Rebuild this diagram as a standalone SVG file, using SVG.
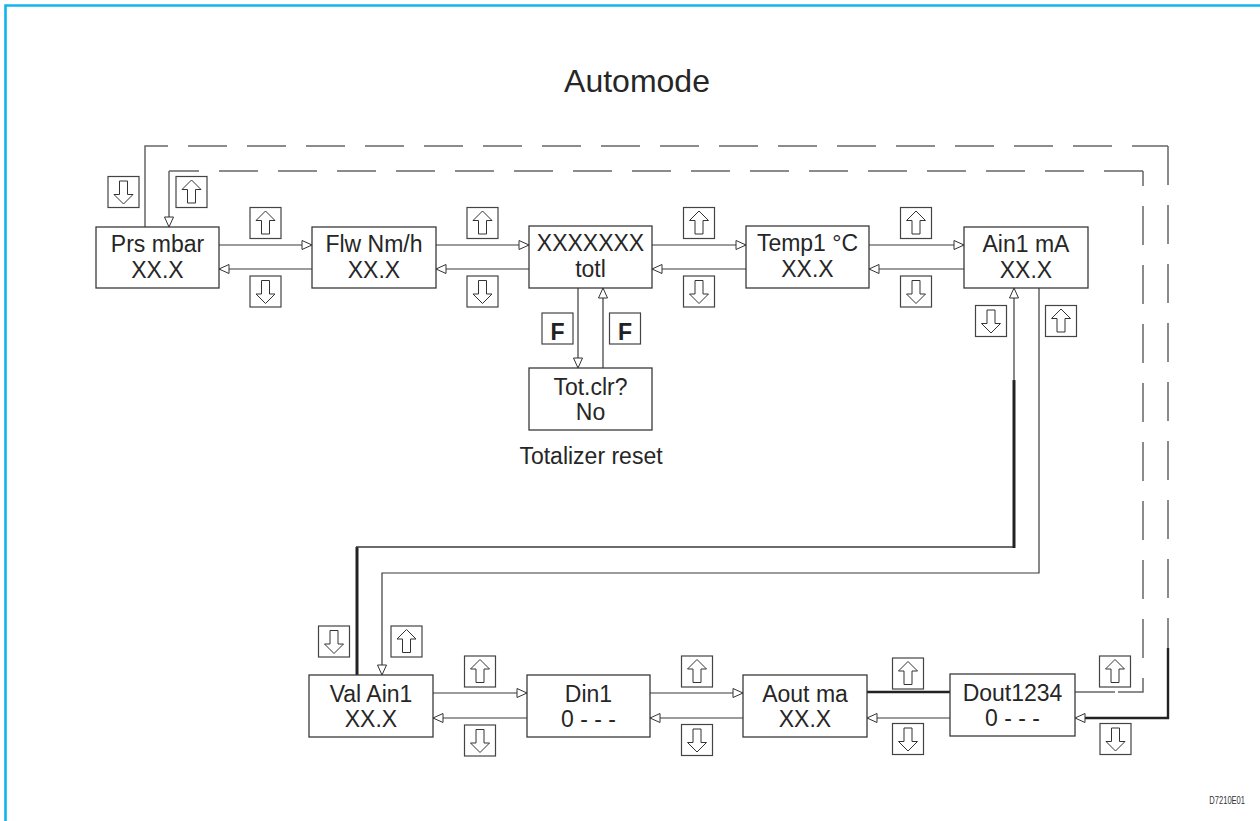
<svg xmlns="http://www.w3.org/2000/svg" width="1260" height="821" viewBox="0 0 1260 821">
<style>
.node{fill:#fff;stroke:#3a3a3a;stroke-width:1.3}
.lbl{font-family:"Liberation Sans",Arial,sans-serif;font-size:23px;fill:#262626;text-anchor:middle}
.ln{fill:none;stroke:#3a3a3a;stroke-width:1.2}
.thick{fill:none;stroke:#222;stroke-width:3}
.dash{fill:none;stroke:#666;stroke-width:1.5;stroke-dasharray:39 20}
.solidg{fill:none;stroke:#666;stroke-width:1.5}
.kbox{fill:#fff;stroke:#444;stroke-width:1.2}
.karr{fill:#fff;stroke:#333;stroke-width:1}
.fl{font-family:"Liberation Sans",Arial,sans-serif;font-size:23px;font-weight:bold;fill:#222;text-anchor:middle}
</style>
<defs>
<marker id="ah" markerUnits="userSpaceOnUse" markerWidth="12" markerHeight="11" refX="10" refY="4.5" orient="auto" viewBox="-1 -1 12 11">
<path d="M0,0 L10,4.5 L0,9 Z" fill="#fff" stroke="#333" stroke-width="1"/>
</marker>
<g id="kup"><rect class="kbox" x="0" y="0" width="31" height="31"/><path class="karr" d="M15.5,3.5 L25,13 L19.5,13 L19.5,26.5 L11.5,26.5 L11.5,13 L6,13 Z"/></g>
<g id="kdn"><rect class="kbox" x="0" y="0" width="31" height="31"/><path class="karr" d="M15.5,27.5 L25,18 L19.5,18 L19.5,4.5 L11.5,4.5 L11.5,18 L6,18 Z"/></g>
<g id="fk"><rect class="kbox" x="0" y="0" width="31" height="31"/><text class="fl" x="15.5" y="26.5">F</text></g>
</defs>
<rect width="1260" height="821" fill="#fff"/>
<path d="M5.5,821 V5.5 H1260" fill="none" stroke="#12b4ee" stroke-width="2.6"/>
<text x="637" y="92" style="font-family:'Liberation Sans',Arial,sans-serif;font-size:32px;fill:#262626;text-anchor:middle">Automode</text>
<text transform="translate(1245,804) scale(0.72,1)" style="font-family:'Liberation Sans',Arial,sans-serif;font-size:10.5px;fill:#333;text-anchor:end">D7210E01</text>

<g id="connectors">
<path class="ln" marker-end="url(#ah)" d="M219,245 H312"/>
<path class="ln" marker-end="url(#ah)" d="M312,269 H219"/>
<path class="ln" marker-end="url(#ah)" d="M436,245 H529"/>
<path class="ln" marker-end="url(#ah)" d="M529,269 H436"/>
<path class="ln" marker-end="url(#ah)" d="M652,245 H746"/>
<path class="ln" marker-end="url(#ah)" d="M746,269 H652"/>
<path class="ln" marker-end="url(#ah)" d="M869,245 H964"/>
<path class="ln" marker-end="url(#ah)" d="M964,269 H869"/>
<path class="ln" marker-end="url(#ah)" d="M578,288 V368"/>
<path class="ln" marker-end="url(#ah)" d="M603,368 V288"/>
<path class="thick" d="M357,675 V547"/>
<path class="ln" style="stroke-width:1.6" d="M356,547 H1014"/>
<path class="thick" d="M1014,548 V380"/>
<path class="ln" marker-end="url(#ah)" d="M1014,381 V288"/>
<path class="ln" marker-end="url(#ah)" d="M1039,288 V573 H382 V675"/>
<path class="ln" marker-end="url(#ah)" d="M433,693 H527"/>
<path class="ln" marker-end="url(#ah)" d="M527,718 H433"/>
<path class="ln" marker-end="url(#ah)" d="M650,693 H743"/>
<path class="ln" marker-end="url(#ah)" d="M743,718 H650"/>
<path class="thick" style="stroke-width:2.4" d="M867,692 H950"/>
<path class="ln" marker-end="url(#ah)" d="M950,718 H867"/>
<path class="solidg" d="M1075,692 H1115"/>
<path class="dash" d="M1118,692 H1143 V171"/>
<path class="dash" d="M1143,171 H169"/>
<path class="solidg" marker-end="url(#ah)" d="M169,171 V227"/>
<path class="solidg" d="M145,227 V146 H168"/>
<path class="dash" style="stroke-dashoffset:-20" d="M168,146 H1168"/>
<path class="dash" d="M1168,146 V650"/>
<path class="thick" style="stroke-width:2.4" d="M1168,648 V718 H1085"/>
<path class="ln" marker-end="url(#ah)" d="M1086,718 H1075"/>
</g>

<g id="n-prs"><rect class="node" x="96" y="227" width="123" height="61"/><text class="lbl" x="157.5" y="252">Prs mbar</text><text class="lbl" x="157.5" y="278">XX.X</text></g>
<g id="n-flw"><rect class="node" x="312" y="227" width="124" height="61"/><text class="lbl" x="374" y="252">Flw Nm/h</text><text class="lbl" x="374" y="278">XX.X</text></g>
<g id="n-totl"><rect class="node" x="529" y="226" width="123" height="62"/><text class="lbl" x="590.5" y="251">XXXXXXX</text><text class="lbl" x="590.5" y="277">totl</text></g>
<g id="n-temp"><rect class="node" x="746" y="226" width="123" height="62"/><text class="lbl" x="807.5" y="251">Temp1 °C</text><text class="lbl" x="807.5" y="277">XX.X</text></g>
<g id="n-ain"><rect class="node" x="964" y="227" width="124" height="61"/><text class="lbl" x="1026" y="252">Ain1 mA</text><text class="lbl" x="1026" y="278">XX.X</text></g>
<g id="n-totclr"><rect class="node" x="529" y="368" width="123" height="62"/><text class="lbl" x="590.5" y="394.5">Tot.clr?</text><text class="lbl" x="590.5" y="420">No</text></g>
<text class="lbl" x="591" y="464">Totalizer reset</text>
<g id="n-val"><rect class="node" x="309" y="675" width="124" height="62"/><text class="lbl" x="371" y="701.5">Val Ain1</text><text class="lbl" x="371" y="727">XX.X</text></g>
<g id="n-din"><rect class="node" x="527" y="675" width="123" height="62"/><text class="lbl" x="588.5" y="701.5">Din1</text><text class="lbl" x="588.5" y="727">0 - - -</text></g>
<g id="n-aout"><rect class="node" x="743" y="675" width="124" height="62"/><text class="lbl" x="805" y="701.5">Aout ma</text><text class="lbl" x="805" y="727">XX.X</text></g>
<g id="n-dout"><rect class="node" x="950" y="674" width="125" height="62"/><text class="lbl" x="1012.5" y="700.5">Dout1234</text><text class="lbl" x="1012.5" y="726">0 - - -</text></g>

<g id="keys">
<use href="#kdn" x="108" y="176.5"/>
<use href="#kup" x="176" y="176.5"/>
<use href="#kup" x="250" y="207.5"/>
<use href="#kdn" x="250" y="276"/>
<use href="#kup" x="467" y="207.5"/>
<use href="#kdn" x="467" y="276"/>
<use href="#kup" x="683.5" y="207.5"/>
<use href="#kdn" x="683.5" y="276"/>
<use href="#kup" x="900.5" y="207.5"/>
<use href="#kdn" x="900.5" y="276"/>
<use href="#fk" x="542" y="313"/>
<use href="#fk" x="609.5" y="313"/>
<use href="#kdn" x="975.5" y="305.5"/>
<use href="#kup" x="1045.5" y="305.5"/>
<use href="#kdn" x="318.5" y="626"/>
<use href="#kup" x="391" y="626"/>
<use href="#kup" x="464.5" y="656"/>
<use href="#kdn" x="464.5" y="725"/>
<use href="#kup" x="681.5" y="656"/>
<use href="#kdn" x="681.5" y="724.5"/>
<use href="#kup" x="892.5" y="658"/>
<use href="#kdn" x="892.5" y="723.5"/>
<use href="#kup" x="1099.5" y="656"/>
<use href="#kdn" x="1100" y="723.5"/>
</g>
</svg>
